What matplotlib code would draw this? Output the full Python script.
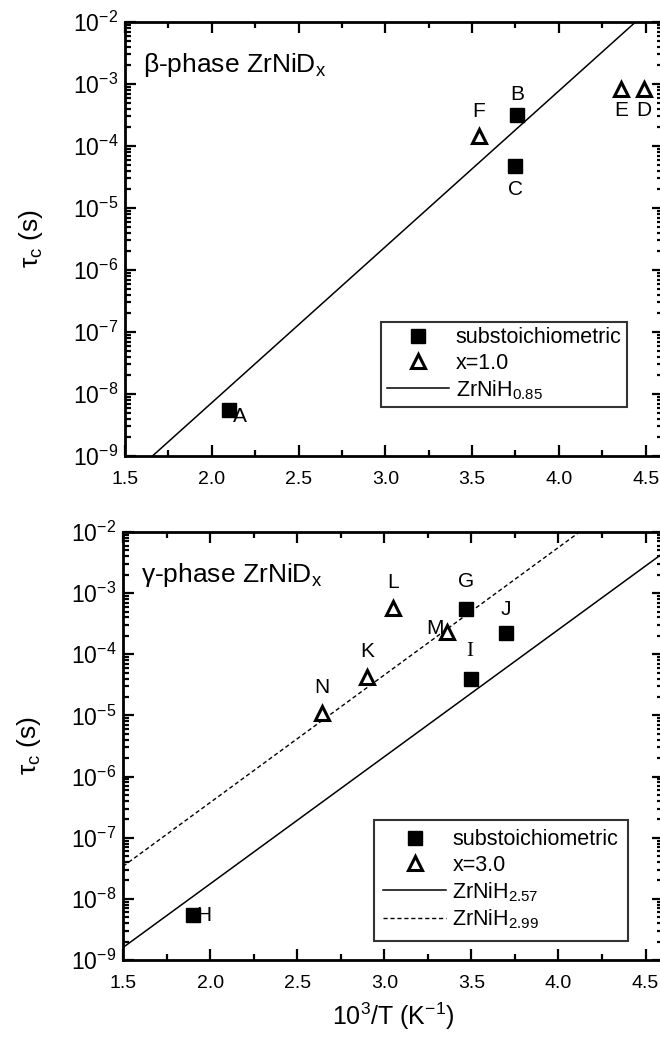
import numpy as np
import matplotlib.pyplot as plt
from matplotlib.ticker import LogLocator, MultipleLocator, FixedLocator, NullFormatter

plt.rcParams["font.family"] = ["Liberation Sans", "DejaVu Sans"]
plt.rcParams["mathtext.fontset"] = "custom"
plt.rcParams["mathtext.rm"] = "Liberation Sans"
plt.rcParams["mathtext.it"] = "Liberation Sans"

# beta phase
beta_sub_x = [2.10, 3.76, 3.75]
beta_sub_y = [5.5e-9, 3.2e-4, 4.8e-5]
beta_sub_lbl = ["A", "B", "C"]
beta_x1_x = [4.49, 4.36, 3.54]
beta_x1_y = [8.3e-4, 8.3e-4, 1.45e-4]
beta_x1_lbl = ["D", "E", "F"]
beta_fit_x = [1.5, 4.6]
beta_fit_y = [4.0e-10, 2.5e-2]

# gamma phase
gam_sub_x = [3.47, 1.90, 3.50, 3.70]
gam_sub_y = [5.5e-4, 5.4e-9, 4.0e-5, 2.2e-4]
gam_sub_lbl = ["G", "H", "I", "J"]
gam_x3_x = [2.90, 3.05, 3.36, 2.64]
gam_x3_y = [4.3e-5, 5.7e-4, 2.3e-4, 1.1e-5]
gam_x3_lbl = ["K", "L", "M", "N"]
fit257_x = [1.5, 4.6]
fit257_y = [1.6e-9, 4.5e-3]
fit299_x = [1.5, 4.6]
fit299_y = [3.4e-8, 1.0e-1]

fig = plt.figure(figsize=(6.6, 10.51), dpi=100)
ax1 = fig.add_axes([125 / 660, 1 - 456 / 1051, 538 / 660, 434 / 1051])
ax2 = fig.add_axes([123 / 660, 1 - 960 / 1051, 540 / 660, 428 / 1051])

sq = dict(marker="s", color="black", markersize=9.5, linestyle="none")
tri = dict(marker="^", markerfacecolor="white", markeredgecolor="black",
           markeredgewidth=2.2, markersize=10, linestyle="none")


def ylab(v, p):
    return r"10$^{\mathregular{%d}}$" % round(np.log10(v))


for ax in (ax1, ax2):
    ax.set_yscale("log")
    ax.set_xlim(1.5, 4.6)
    ax.set_ylim(1e-9, 1e-2)
    ax.xaxis.set_major_locator(FixedLocator([1.5, 2.0, 2.5, 3.0, 3.5, 4.0, 4.5]))
    ax.xaxis.set_minor_locator(MultipleLocator(0.25))
    ax.yaxis.set_major_locator(LogLocator(base=10, numticks=20))
    ax.yaxis.set_minor_locator(LogLocator(base=10, subs=np.arange(2, 10), numticks=20))
    ax.yaxis.set_minor_formatter(NullFormatter())
    ax.yaxis.set_major_formatter(plt.FuncFormatter(ylab))
    ax.tick_params(which="both", direction="in", top=True, right=True, width=1.6)
    ax.tick_params(which="major", length=8)
    ax.tick_params(which="minor", length=4)
    ax.tick_params(axis="x", labelsize=14, pad=11)
    ax.tick_params(axis="y", labelsize=16.5, pad=5)
    ax.xaxis.set_major_formatter(plt.FuncFormatter(lambda v, p: f"{v:.1f}"))
    for s in ax.spines.values():
        s.set_linewidth(2)
    ax.set_ylabel(r"$\tau_{\rm c}$ (s)", fontsize=19, labelpad=20)

lbl = dict(fontsize=15, ha="center", va="center")

# top panel
ax1.plot(beta_fit_x, beta_fit_y, color="black", lw=1.1, label="ZrNiH$_{0.85}$")
ax1.plot(beta_sub_x, beta_sub_y, label="substoichiometric", **sq)
ax1.plot(beta_x1_x, beta_x1_y, label="x=1.0", **tri)
ax1.text(2.12, beta_sub_y[0] * 0.8, "A", fontsize=15, va="center")
ax1.text(3.76, beta_sub_y[1] * 2.1, "B", **lbl)
ax1.text(3.75, beta_sub_y[2] * 0.42, "C", **lbl)
ax1.text(4.49, beta_x1_y[0] * 0.45, "D", **lbl)
ax1.text(4.36, beta_x1_y[1] * 0.45, "E", **lbl)
ax1.text(3.54, beta_x1_y[2] * 2.5, "F", **lbl)
ax1.text(0.033, 0.90, r"$\beta$-phase ZrNiD$_{\rm x}$", transform=ax1.transAxes,
         fontsize=19, va="center")
h, l = ax1.get_legend_handles_labels()
leg1 = ax1.legend([h[1], h[2], h[0]], [l[1], l[2], l[0]], loc="lower right",
                  bbox_to_anchor=(0.933, 0.113), fontsize=15.5, frameon=True,
                  fancybox=False, edgecolor="black", handlelength=2.9,
                  borderpad=0.25, labelspacing=0.2, handletextpad=0.3,
                  borderaxespad=0)
leg1.get_frame().set_linewidth(1.5)

# bottom panel
ax2.plot(fit257_x, fit257_y, color="black", lw=1.1, label="ZrNiH$_{2.57}$")
ax2.plot(fit299_x, fit299_y, color="black", lw=1.0, linestyle=(0, (3, 2)),
         label="ZrNiH$_{2.99}$")
ax2.plot(gam_sub_x, gam_sub_y, label="substoichiometric", **sq)
ax2.plot(gam_x3_x, gam_x3_y, label="x=3.0", **tri)
ax2.text(3.47, gam_sub_y[0] * 2.8, "G", **lbl)
ax2.text(1.92, gam_sub_y[1], "H", fontsize=15, va="center")
ax2.text(3.49, gam_sub_y[2] * 2.8, "I", fontsize=15, ha="center", va="center",
         family="Liberation Serif")
ax2.text(3.70, gam_sub_y[3] * 2.5, "J", **lbl)
ax2.text(2.90, gam_x3_y[0] * 2.6, "K", **lbl)
ax2.text(3.05, gam_x3_y[1] * 2.6, "L", **lbl)
ax2.text(3.34, gam_x3_y[2] * 1.15, "M", fontsize=15, ha="right", va="center")
ax2.text(2.64, gam_x3_y[3] * 2.6, "N", **lbl)
ax2.text(0.033, 0.90, r"$\gamma$-phase ZrNiD$_{\rm x}$", transform=ax2.transAxes,
         fontsize=19, va="center")
h, l = ax2.get_legend_handles_labels()
leg2 = ax2.legend([h[2], h[3], h[0], h[1]], [l[2], l[3], l[0], l[1]],
                  loc="lower right", bbox_to_anchor=(0.935, 0.044), fontsize=15.5,
                  frameon=True, fancybox=False, edgecolor="black",
                  handlelength=2.9, borderpad=0.45, labelspacing=0.2,
                  handletextpad=0.3, borderaxespad=0)
leg2.get_frame().set_linewidth(1.5)
ax2.set_xlabel(r"10$^{\mathregular{3}}$/T (K$^{\mathregular{-1}}$)", fontsize=18,
               labelpad=6)

fig.savefig("out.png", dpi=100)
